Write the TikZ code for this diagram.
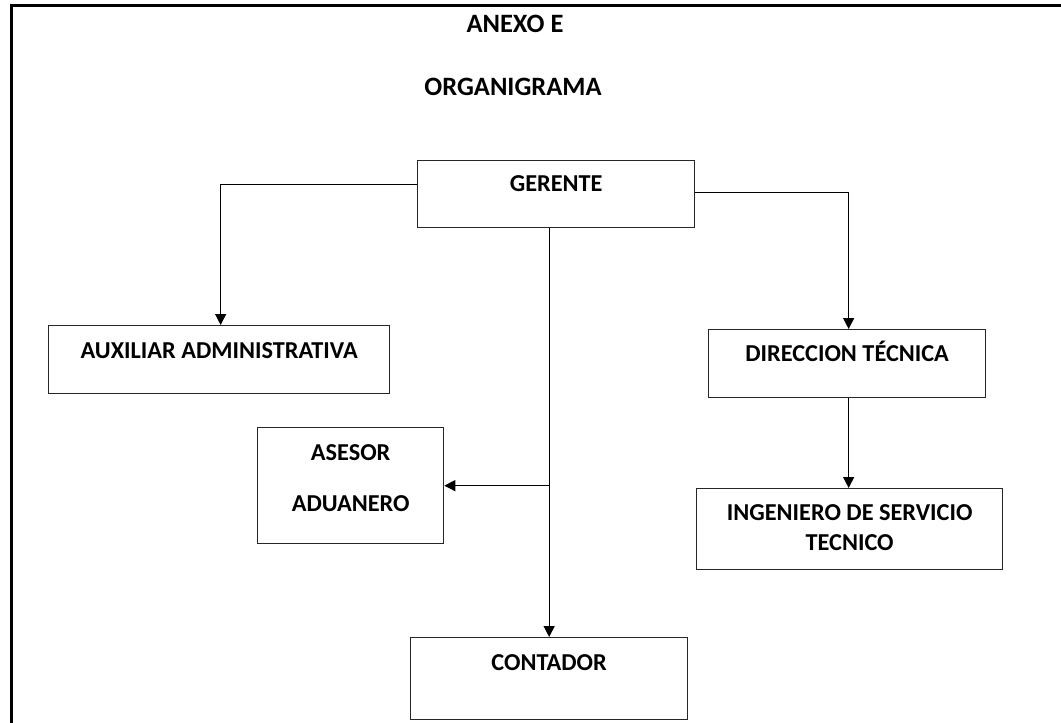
\documentclass[tikz,border=0pt]{standalone}
\usepackage{fontspec}
\setmainfont{Carlito}
\usetikzlibrary{arrows.meta}
\usetikzlibrary{positioning}

\begin{document}
\begin{tikzpicture}[x=1pt,y=-1pt,>={Triangle[length=11pt,width=11pt]},
  line width=1.3pt,node distance=16pt,
  box node/.style={rectangle,draw=black!85,anchor=north west,inner sep=0pt},
  title text/.style={font=\fontsize{26.5}{30}\selectfont\bfseries,inner sep=0pt,
  text height=16pt,text depth=0pt},
  box text/.style={font=\fontsize{24.3}{30}\selectfont\bfseries,inner sep=0pt,
  text height=15pt,text depth=0pt},
  multi text/.style={font=\fontsize{24.3}{30}\selectfont\bfseries,inner sep=0pt,align=center}]
\useasboundingbox (0,0) rectangle (1061,723);
%------------------------------------------------------------------------
% The frame and the titles
%------------------------------------------------------------------------
\draw[line width=2.6pt] (1061,5.5) -- (11.5,5.5) -- (11.5,723);
\node[title text] (anexo) at (515,24) {ANEXO E};
\node[title text] (organi) at (513,87) {ORGANIGRAMA};
%------------------------------------------------------------------------
% The boxes
%------------------------------------------------------------------------
\node[box node,minimum width=277pt,minimum height=67pt] (ger) at (417,160) {};
\node[box node,minimum width=341pt,minimum height=68pt] (aux) at (48,325) {};
\node[box node,minimum width=277pt,minimum height=68pt] (dir) at (708,329) {};
\node[box node,minimum width=306pt,minimum height=81pt] (ing) at (696,488) {};
\node[box node,minimum width=186pt,minimum height=116pt] (ase) at (257,427) {};
\node[box node,minimum width=277pt,minimum height=82pt] (con) at (410,637) {};
%------------------------------------------------------------------------
% The texts
%------------------------------------------------------------------------
\node[box text,below=15.5pt of ger.north] (tger) {GERENTE};
\node[box text,below=17.5pt of aux.north] (taux) {AUXILIAR ADMINISTRATIVA};
\node[box text,below=16.5pt of dir.north] (tdir) {DIRECCION TÉCNICA};
\node[multi text,below=16pt of ing.north] (ting) {INGENIERO DE SERVICIO\\TECNICO};
\node[multi text,below=17pt of ase.north] (tase) {ASESOR\\[21pt]ADUANERO};
\node[box text,below=17.5pt of con.north] (tcon) {CONTADOR};
%------------------------------------------------------------------------
% The connectors
%------------------------------------------------------------------------
\coordinate (jn) at (con.north |- ase.east);
\draw[->] ([yshift=9.5pt]ger.west) -| ([xshift=1.5pt]aux.north);
\draw[->] ([yshift=1.5pt]ger.east) -| ([xshift=1.5pt]dir.north);
\draw[->] ([xshift=1.5pt]dir.south) -- ([xshift=1.5pt]dir.south |- ing.north);
\draw[->] (con.north |- ger.south) -- (con.north);
\draw[->] (jn) -- (ase.east);

\end{tikzpicture}
\end{document}
